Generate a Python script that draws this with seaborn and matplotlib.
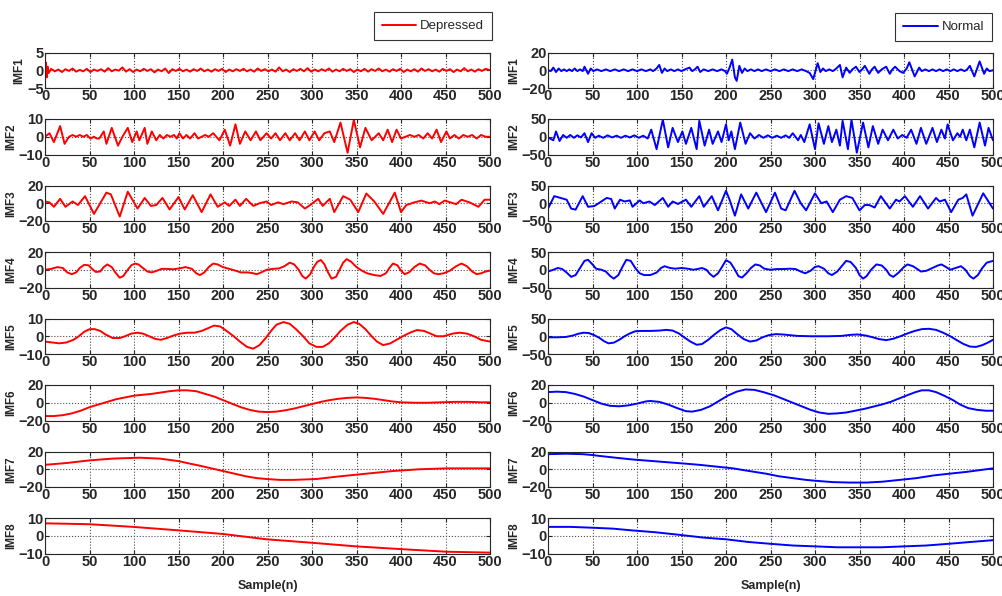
import matplotlib
matplotlib.use("Agg")
import matplotlib.pyplot as plt
import seaborn as sns

# ---- data: (sample index, amplitude) ----
imf_names = ["IMF1", "IMF2", "IMF3", "IMF4", "IMF5", "IMF6", "IMF7", "IMF8"]
dep_limits = [5, 10, 20, 20, 10, 20, 20, 10]
nor_limits = [20, 50, 50, 50, 50, 20, 20, 10]
x_ticks = list(range(0, 501, 50))

dep1_x = [0, 1, 2, 3, 4] + list(range(7, 500, 4))
dep1_y = [0, 2.2, -2.0, 1.0, -0.8,
          0.4, -0.3, 0.2, -0.5, 0.3, -0.2, 0.5, -0.4, 0.1, -0.3, 0.4, -0.5, 0.2, -0.2, 0.3, -0.4, 0.6, -0.3, 0.2, -0.1,
          0.8, -0.4, 0.3, -0.5, 0.2, -0.3, 0.4, -0.2, 0.3, -0.6, 0.2, -0.3, 0.5, -0.8, 0.3, -0.2, 0.4, -0.3, 0.2, -0.4,
          0.3, -0.2, 0.5, -0.3, 0.2, -0.4, 0.3, -0.2, 0.4, -0.5, 0.2, -0.3, 0.3, -0.2, 0.4, -0.3, 0.2, -0.4, 0.5, -0.2,
          0.3, -0.3, 0.2, -0.4, 0.8, -0.3, 0.2, -0.5, 0.3, -0.2, 0.4, -0.3, 0.6, -0.4, 0.2, -0.3, 0.3, -0.2, 0.5, -0.4,
          0.2, -0.3, 0.4, -0.2, 0.3, -0.5, 0.2, -0.3, 0.4, -0.4, 0.3, -0.2, 0.5, -0.3, 0.2, -0.4, 0.3, -0.2, 0.4, -0.5,
          0.2, -0.3, 0.3, -0.4, 0.5, -0.2, 0.3, -0.3, 0.2, -0.4, 0.4, -0.2, 0.3, -0.5, 0.2, -0.3, 0.6, -0.3, 0.2, -0.4,
          0.3, -0.2, 0.4, 0.1]

dep2_x = [0, 5, 10, 17, 22, 27, 31, 35, 39, 43, 47, 51, 55, 58, 61, 66, 69, 75, 82, 87, 93, 98, 103, 106, 112,
          115, 120, 125, 129, 133, 137, 141, 145, 148, 151, 155, 159, 163, 168, 172, 176, 180, 184, 189, 196,
          202, 208, 214, 219, 225, 231, 237, 242, 249, 254, 259, 264, 270, 275, 281, 286, 292, 297, 303, 308,
          314, 320, 325, 332, 340, 347, 354, 360, 367, 375, 380, 385, 390, 395, 400, 405, 410, 415, 420, 425,
          430, 435, 440, 445, 451, 455, 460, 465, 470, 475, 480, 485, 490, 495, 500]
dep2_y = [0, 2, -3, 6, -4, 0, 1, 0, 1, 0, 1, -1, 0, -1, -1, 3, -4, 5, -5, 0, 5, -3, 3, -2, 5,
          -4, 3, -2, 1, -1, 1, 0, 1, -1, 2, -1, 1, -1, 2, -1, 0, 1, 0, 2, -2,
          4, -5, 7, -4, 3, -2, 3, -2, 2, -1, 2, -2, 2, -2, 2, -2, 3, -2, 3, -2,
          2, 3, -3, 8, -9, 9.5, -6, 5, -2, 2, -2, 4, -3, 4, -1, 0, 1, 0, 1, -1,
          2, -1, 4, -3, 3, -1, 1, -1, 1, 0, 1, -1, 1, 0, 0]

dep3_x = [0, 5, 10, 17, 23, 31, 37, 45, 55, 69, 74, 84, 93, 104, 112, 119, 125, 132, 140, 150, 157, 166,
          176, 186, 194, 202, 207, 214, 219, 226, 234, 241, 249, 254, 262, 268, 277, 284, 292, 298, 307,
          312, 320, 325, 335, 343, 352, 361, 370, 380, 393, 400, 406, 415, 423, 432, 438, 443, 449, 462,
          468, 477, 487, 494, 500]
dep3_y = [2, 1, -4, 5, -4, 2, -2, 8, -12, 12, 10, -15, 13, -6, 6, -3, -2, 6, -7, 7, -7, 9,
          -10, 10, -4, 1, -3, 4, -3, 5, -3, 0, 2, -2, 1, -1, 2, 1, -6, -2, 5,
          -3, 5, -10, 8, 4, -10, 11, 2, -12, 12, -10, -2, 1, 3, 0, 2, -1, 3, -1,
          4, 1, -4, 4, 4]

dep4_x = [0, 7, 14, 20, 25, 30, 35, 39, 44, 49, 53, 57, 62, 66, 70, 75, 79, 84, 88, 93, 97, 101, 105,
          110, 115, 120, 126, 131, 137, 144, 151, 158, 165, 170, 174, 179, 184, 189, 194, 200, 207, 214,
          220, 228, 234, 238, 243, 249, 256, 263, 269, 275, 280, 285, 289, 293, 298, 302, 306, 310, 314,
          318, 322, 327, 331, 335, 339, 344, 350, 356, 362, 370, 377, 383, 387, 391, 396, 400, 404, 409,
          415, 421, 427, 432, 437, 442, 448, 455, 462, 468, 474, 480, 485, 490, 495, 500]
dep4_y = [0, 1, 3, 2, -3, -5, -3, 2, 5.5, 5, 1, -2.5, -2, 3, 6, 3, -3, -9, -7, 0, 5, 7, 6,
          2, -2, -3, -1, 1, 1, 0.5, 1.5, 3, 1, -4, -6, -3, 3, 7, 6, 3, 1, -1,
          -3, -3, -4, -5, -3, 0, 1, 1.5, 4, 8, 6, 0, -7, -10, -5, 3, 9, 11, 6,
          -3, -10, -8, 0, 8, 12, 9, 3, -1, -4, -6, -7, -4, 2, 7, 5, -1, -5, -3,
          3, 7, 5, 0, -4, -5, -4, -1, 4, 7, 4, -2, -5, -4, -2, -1]

dep5_x = [0, 8, 16, 24, 32, 38, 44, 50, 56, 62, 68, 76, 84, 90, 97, 104, 110, 117, 124, 130, 137, 145,
          152, 160, 168, 176, 183, 190, 197, 204, 212, 219, 227, 234, 241, 248, 254, 260, 268, 275, 282,
          290, 297, 305, 312, 319, 325, 332, 340, 347, 353, 360, 367, 373, 380, 388, 395, 402, 410, 418,
          426, 433, 440, 448, 458, 466, 474, 482, 490, 500]
dep5_y = [-3, -3.5, -4, -3.5, -2, 0, 2.5, 4, 4, 3, 1, -1, -1, 0, 1.5, 2, 1.5, 0, -1.5, -2, -1, 0.5,
          1.5, 2, 2, 3, 4.5, 6, 5.5, 3, 0, -3, -6, -7, -5, -1, 3, 6.5, 8, 7, 4,
          0, -4, -6, -6, -4, -1, 3, 6.5, 8, 7, 4, 0, -3, -5, -4, -2, 0, 2, 3.5,
          3, 1.5, 0, 0, 1.5, 2, 1.5, 0, -2, -3]

dep6_x = [0, 10, 20, 30, 40, 50, 60, 70, 80, 90, 100, 110, 120, 130, 140, 150, 160, 170, 180, 190, 200,
          210, 220, 230, 240, 250, 260, 270, 280, 290, 300, 310, 320, 330, 340, 350, 360, 370, 380, 390,
          400, 415, 430, 445, 460, 475, 490, 500]
dep6_y = [-15, -15, -14, -12, -9, -5, -2, 1, 4, 6, 8, 9, 10, 11.5, 13, 14, 14, 13, 10, 7, 3,
          -1, -5, -8, -10, -10.5, -10, -8.5, -6.5, -4, -1.5, 1, 3, 4.5, 5.5, 6, 5.5, 4.5, 3, 1.5,
          0.5, 0, 0, 0.5, 1, 1, 0.5, 0.5]

dep7_x = [0, 12, 24, 37, 50, 63, 76, 90, 106, 118, 129, 140, 151, 162, 174, 187, 200, 213, 226, 238,
          249, 264, 279, 292, 305, 318, 331, 346, 361, 376, 391, 406, 421, 436, 451, 474, 500]
dep7_y = [5, 6, 7, 8.5, 10, 11, 12, 12.5, 13, 12.5, 12, 10.5, 9, 6.5, 4, 1, -2, -5, -8, -10,
          -11, -12, -12, -11.5, -11, -9.5, -8, -6.5, -5, -3.5, -2, -1, 0, 0.5, 1, 1, 1]

dep8_x = [0, 50, 99, 151, 200, 249, 301, 350, 399, 451, 500]
dep8_y = [7, 6.5, 5, 3, 1, -2, -4, -6, -7.5, -9, -9.5]

nor1_x = [0, 3, 6, 9, 12, 15, 18, 21, 24, 27, 30, 33, 36, 39, 41, 45, 48, 51, 55, 60, 65, 70, 75, 80, 85, 90,
          95, 100, 105, 110, 115, 118, 122, 125, 128, 131, 134, 138, 142, 146, 150, 154, 159, 162, 165, 168,
          171, 175, 180, 185, 190, 195, 199, 201, 204, 207, 210, 212, 215, 218, 221, 224, 228, 232, 236, 240,
          245, 250, 255, 260, 265, 270, 275, 280, 285, 290, 294, 298, 303, 306, 309, 312, 316, 320, 324, 328,
          331, 335, 339, 342, 346, 350, 353, 356, 361, 364, 367, 371, 375, 380, 384, 387, 390, 395, 399, 403,
          406, 412, 417, 420, 424, 428, 432, 436, 440, 444, 448, 452, 456, 460, 464, 468, 471, 474, 479, 485,
          490, 493, 496, 500]
nor1_y = [0, -1, 3, -2, 2, -1, 1, -1, 1, -1, 2, -1, 1, -1, 4, -4, 2, -1, 1, -1, 1, -1, 1, -1, 1, -1,
          1, -1, 1, -1, 1, -1, 2, 6, -3, 2, -1, 1, -1, 1, -1, 1, 3, -1, 1, 4,
          -2, 1, -1, 1, -1, 1, -1, -4, 3, 12, -8, -12, 5, -3, 2, -1, 1, -1, 1, -1,
          1, -1, 1, -1, 1, -1, 1, -1, 1, -1, -3, -10, 8, -2, 2, -1, 1, -1, 2, 6,
          -8, 3, -3, 1, 4, -2, 1, 5, -4, 1, 4, -3, 1, 4, -4, 1, 4, -1, -3, 2,
          9, -7, 3, -1, 1, -1, 1, -1, 1, -1, 1, -1, 1, -1, 1, -1, 1, 5, -7, 10,
          -4, 2, -1, 0]

nor2_x = [0, 6, 9, 13, 17, 21, 25, 29, 33, 37, 41, 45, 49, 53, 57, 62, 67, 72, 77, 82, 87, 92, 97, 102,
          107, 112, 116, 122, 129, 135, 140, 146, 151, 155, 161, 167, 170, 176, 181, 185, 191, 195, 200,
          203, 206, 210, 216, 222, 227, 232, 237, 242, 247, 252, 257, 262, 267, 271, 275, 281, 284, 288,
          294, 300, 304, 310, 315, 319, 324, 328, 331, 337, 341, 347, 354, 360, 365, 371, 376, 382, 388,
          393, 398, 403, 408, 414, 419, 425, 432, 437, 442, 446, 449, 455, 460, 463, 466, 470, 474, 479,
          485, 491, 495, 500]
nor2_y = [-2, -10, 15, -12, 5, -3, 5, -3, 4, -2, 10, -15, 10, -3, 3, -3, 4, -2, 3, -3, 3, -2, 4, -3,
          3, -5, 20, -35, 48, -30, 25, -15, 15, -20, 25, -35, 45, -25, 20, -20, 15, -15, 35,
          -10, 15, -35, 40, -20, 10, -5, 5, -3, 4, -3, 3, -3, 4, -3, 10, -10, 5, -15,
          35, -35, 38, -20, 30, -15, 20, -25, 45, -35, 48, -45, 40, -30, 30, -20, 20, -10, 20,
          -5, 5, -3, 20, -20, 25, -20, 25, -15, 20, -5, 35, -10, 10, 0, 20, -10, 20, -30,
          40, -25, 25, -10]

nor3_x = [0, 7, 14, 21, 26, 31, 39, 45, 52, 66, 71, 75, 81, 86, 92, 95, 103, 107, 114, 120, 129, 135,
          140, 146, 155, 161, 170, 175, 184, 191, 200, 204, 210, 217, 225, 234, 245, 255, 262, 267, 277,
          284, 290, 300, 307, 313, 320, 328, 335, 342, 350, 356, 361, 367, 374, 384, 391, 395, 401, 410,
          418, 427, 436, 440, 446, 453, 461, 466, 470, 477, 489, 500]
nor3_y = [-15, 20, 15, 10, -15, -18, 20, -10, -8, 15, 12, -15, 10, 5, 8, -10, 8, 0, 5, -5, 15, -10,
          5, -2, 10, -10, 20, -10, 20, -20, 35, 10, -35, 25, -15, 30, -25, 30, -15, -20, 35,
          0, -20, 28, 0, 5, -25, 10, 20, 15, -20, -5, -5, -12, 20, -15, 10, 5, 20, -10,
          20, -15, 15, 5, 10, -25, 10, 15, 25, -35, 28, -15]

nor4_x = [0, 6, 11, 16, 21, 26, 31, 36, 41, 45, 50, 54, 60, 65, 70, 74, 79, 84, 88, 93, 98, 103, 108,
          115, 122, 127, 131, 137, 143, 150, 157, 163, 168, 173, 178, 182, 186, 191, 196, 200, 205, 210,
          214, 218, 223, 228, 233, 238, 243, 250, 257, 265, 272, 278, 284, 289, 295, 300, 304, 310, 315,
          319, 325, 330, 335, 340, 346, 350, 354, 358, 363, 369, 375, 380, 384, 388, 394, 400, 404, 410,
          415, 419, 425, 432, 438, 442, 447, 452, 458, 464, 469, 474, 478, 483, 488, 493, 500]
nor4_y = [-5, 0, 5, 2, -8, -20, -15, 5, 25, 28, 15, 3, 0, -5, -18, -25, -15, 10, 28, 25, 5, -10, -15,
          -15, -8, 5, 10, 5, 3, 5, 3, 0, 2, 5, 0, -12, -20, -10, 10, 27, 20, 0,
          -18, -22, -10, 5, 15, 12, 3, 0, 2, 2, 3, 2, -5, -10, -3, 8, 10, 3, -10,
          -15, -5, 10, 25, 22, 5, -15, -25, -18, 0, 15, 12, 0, -15, -20, -8, 8, 15, 10,
          2, -5, -3, 5, 12, 15, 8, 0, 5, 10, 0, -18, -25, -15, 5, 20, 25]

nor5_x = [0, 10, 20, 28, 34, 40, 46, 52, 58, 63, 68, 74, 80, 86, 92, 98, 105, 115, 125, 133, 140, 147,
          153, 160, 167, 173, 180, 187, 194, 200, 206, 213, 220, 227, 234, 241, 248, 256, 264, 272, 280,
          295, 315, 330, 340, 348, 357, 365, 372, 380, 388, 396, 404, 412, 420, 428, 436, 444, 452, 460,
          467, 474, 481, 488, 495, 500]
nor5_y = [-3, -3, -2, 2, 7, 10, 9, 3, -5, -14, -20, -18, -10, 0, 8, 14, 15, 15, 16, 18, 16, 8,
          -3, -15, -24, -22, -10, 5, 18, 25, 20, 5, -8, -15, -12, -3, 3, 6, 5, 3, 1,
          0, 0, 1, 4, 5, 2, -3, -8, -11, -7, 0, 8, 15, 20, 21, 18, 10, 0, -12,
          -22, -29, -30, -25, -17, -10]

nor6_x = [0, 10, 20, 30, 40, 50, 60, 70, 80, 90, 100, 110, 115, 125, 135, 145, 155, 162, 172, 182, 192,
          202, 212, 222, 232, 242, 255, 265, 275, 285, 295, 305, 315, 325, 335, 345, 355, 365, 375, 385,
          395, 405, 413, 420, 428, 436, 445, 455, 463, 472, 482, 492, 500]
nor6_y = [12, 12.5, 12, 10, 7, 3, -1, -3.5, -4, -3, -1, 1.5, 2, 1, -2, -6, -9.5, -10, -8, -4, 2,
          8, 12.5, 15, 14.5, 12, 8, 4, 0, -4, -8, -11, -12.5, -12, -11, -9, -7, -4.5, -2, 1,
          5, 9, 12, 14, 14, 12, 8, 3, -2, -6, -8, -9, -9]

nor7_x = [0, 20, 39, 50, 58, 76, 95, 114, 133, 152, 170, 189, 208, 226, 245, 260, 275, 290, 301, 320,
          339, 358, 376, 395, 414, 433, 451, 470, 485, 500]
nor7_y = [17, 17.5, 17, 16, 15, 13, 11, 9.5, 8, 6.5, 5, 3, 1, -2, -5, -8, -10, -12, -13, -14.5,
          -15, -15, -14, -12, -10, -7, -5, -3, -1, 1]

nor8_x = [0, 25, 51, 73, 95, 120, 148, 174, 200, 225, 249, 275, 301, 325, 350, 375, 399, 425, 451, 475, 500]
nor8_y = [5, 5, 4.5, 4, 3, 2, 0.5, -1, -2, -3.5, -4.5, -5.5, -6, -6.5, -6.5, -6.5, -6, -5.5, -4.5, -3.5, -2.5]

dep_x = [dep1_x, dep2_x, dep3_x, dep4_x, dep5_x, dep6_x, dep7_x, dep8_x]
dep_y = [dep1_y, dep2_y, dep3_y, dep4_y, dep5_y, dep6_y, dep7_y, dep8_y]
nor_x = [nor1_x, nor2_x, nor3_x, nor4_x, nor5_x, nor6_x, nor7_x, nor8_x]
nor_y = [nor1_y, nor2_y, nor3_y, nor4_y, nor5_y, nor6_y, nor7_y, nor8_y]

# ---- style ----
sns.set_style("ticks")
plt.rcParams['font.family'] = ['Liberation Sans', 'DejaVu Sans']
plt.rcParams['font.weight'] = 'bold'

fig = plt.figure(figsize=(10.02, 5.96), dpi=100)
W, H = 1002.0, 596.0


def draw_column(left_px, xs, ys, limits, color, label):
    axes = []
    for i in range(8):
        top = 52.5 + 66.5 * i
        ax = fig.add_axes([left_px / W, 1 - (top + 35.5) / H, 445 / W, 35.5 / H])
        sns.lineplot(x=xs[i], y=ys[i], ax=ax, color=color, linewidth=1.4,
                     label=label if i == 0 else None, legend=False)
        lim = limits[i]
        ax.set_xlim(0, 500)
        ax.set_ylim(-lim, lim)
        ax.set_xticks(x_ticks)
        ax.set_yticks([-lim, 0, lim])
        ax.grid(True, linestyle=':', color='0.3', linewidth=0.8)
        ax.tick_params(direction='in', length=3, top=True, right=True,
                       labelsize=10.5, pad=1)
        for lab in ax.get_xticklabels() + ax.get_yticklabels():
            lab.set_fontweight('bold')
        for s in ax.spines.values():
            s.set_linewidth(0.8)
            s.set_color('0.15')
        ax.set_ylabel(imf_names[i], fontsize=8.5, fontweight='bold', labelpad=1)
        ax.set_xlabel('')
        axes.append(ax)
    axes[-1].set_xlabel('Sample(n)', fontsize=9, fontweight='bold', labelpad=8)
    return axes


dep_axes = draw_column(45, dep_x, dep_y, dep_limits, '#ff0000', 'Depressed')
nor_axes = draw_column(548, nor_x, nor_y, nor_limits, '#0000ff', 'Normal')

for axes, anchor in [(dep_axes, (492 / W, 1 - 12 / H)), (nor_axes, (992 / W, 1 - 13 / H))]:
    handles = [l for l in axes[0].get_lines() if l.get_label() in ('Depressed', 'Normal')]
    leg = fig.legend(handles=handles, labels=[h.get_label() for h in handles],
                     loc='upper right', bbox_to_anchor=anchor, borderaxespad=0,
                     frameon=True, fancybox=False,
                     handlelength=2.6, handletextpad=0.3, borderpad=0.6,
                     prop={'size': 9.5, 'weight': 'normal'})
    leg.get_frame().set_edgecolor('black')
    leg.get_frame().set_linewidth(0.8)

fig.savefig('out.png', dpi=100)
